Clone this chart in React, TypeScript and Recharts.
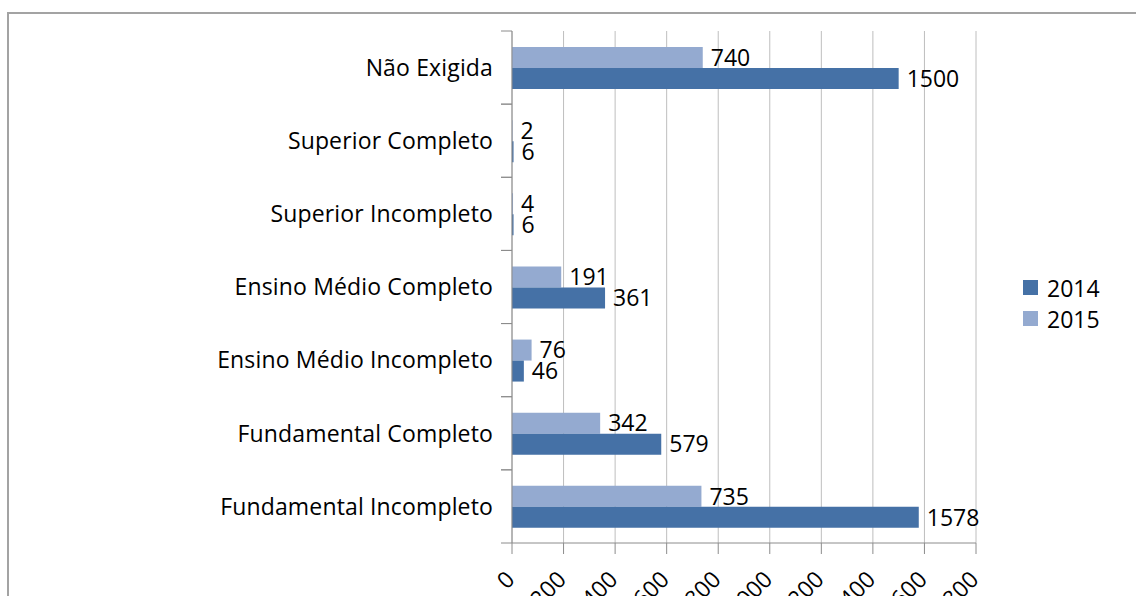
import React from 'react';
import { BarChart, Bar, XAxis, YAxis, CartesianGrid, LabelList, Legend } from 'recharts';

const categories = [
  'Não Exigida',
  'Superior Completo',
  'Superior Incompleto',
  'Ensino Médio Completo',
  'Ensino Médio Incompleto',
  'Fundamental Completo',
  'Fundamental Incompleto',
];
const values2014 = [1500, 6, 6, 361, 46, 579, 1578];
const values2015 = [740, 2, 4, 191, 76, 342, 735];
const xTicks = [0, 200, 400, 600, 800, 1000, 1200, 1400, 1600, 1800];
const seriesNames = ['2014', '2015'];

const data = categories.map((c, i) => ({ category: c, y2014: values2014[i], y2015: values2015[i] }));

const W = 1136;
const H = 596;
const FONT = '"Open Sans", sans-serif';
const FONT_SIZE = 23;
const COLOR_2014 = '#4571a6';
const COLOR_2015 = '#94aad0';
const AXIS_COLOR = '#8c8c8c';
const GRID_COLOR = '#bebebe';
const MARGIN = { top: 31, right: 160, bottom: 0, left: 0 };
const Y_W = 512;
const X_H = 53;
const Y_TICK_MARGIN = 19;
const PLOT_H = H - MARGIN.top - MARGIN.bottom - X_H;
const HALF_BAND = PLOT_H / categories.length / 2;
const colors: Record<string, string> = { '2014': COLOR_2014, '2015': COLOR_2015 };

const YTick = (props: any) => {
  const { x, y, payload } = props;
  const ax = x + Y_TICK_MARGIN;
  return (
    <g>
      <text x={x} y={y} dy="0.36em" textAnchor="end" fill="#000" fontFamily={FONT} fontSize={FONT_SIZE} letterSpacing={0.15}>
        {payload.value}
      </text>
      <line x1={ax - 11} x2={ax} y1={y - HALF_BAND} y2={y - HALF_BAND} stroke={AXIS_COLOR} />
      <line x1={ax - 11} x2={ax} y1={y + HALF_BAND} y2={y + HALF_BAND} stroke={AXIS_COLOR} />
    </g>
  );
};

const XTick = (props: any) => {
  const { x, y, payload } = props;
  return (
    <g transform={`translate(${x + 4},${y + 25})`}>
      <text x={0} y={0} textAnchor="end" transform="rotate(-45)" fill="#000" fontFamily={FONT} fontSize={FONT_SIZE}>
        {payload.value}
      </text>
    </g>
  );
};

const LegendContent = () => (
  <div style={{ fontFamily: FONT, fontSize: FONT_SIZE, color: '#000' }}>
    {seriesNames.map((s) => (
      <div key={s} style={{ display: 'flex', alignItems: 'center', height: 31 }}>
        <div style={{ width: 15, height: 15, background: colors[s], marginRight: 9 }} />
        <span>{s}</span>
      </div>
    ))}
  </div>
);

export default function App() {
  return (
    <div style={{ position: 'absolute', left: 0, top: 0, width: W, height: H, overflow: 'hidden', background: '#fff' }}>
      <div
        style={{
          position: 'absolute',
          left: 7,
          top: 12,
          width: 2000,
          height: 2000,
          borderLeft: '2px solid #a3a3a3',
          borderTop: '2px solid #a3a3a3',
        }}
      />
      <div style={{ position: 'absolute', left: 0, top: 0 }}>
        <BarChart width={W} height={H} data={data} layout="vertical" margin={MARGIN} barGap={0}>
          <CartesianGrid horizontal={false} stroke={GRID_COLOR} />
          <XAxis
            type="number"
            domain={[0, 1800]}
            ticks={xTicks}
            height={X_H}
            tickSize={11}
            stroke={AXIS_COLOR}
            tick={<XTick />}
            interval={0}
          />
          <YAxis
            type="category"
            dataKey="category"
            width={Y_W}
            tickSize={0}
            tickMargin={Y_TICK_MARGIN}
            tickLine={false}
            stroke={AXIS_COLOR}
            tick={<YTick />}
            interval={0}
          />
          <Legend
            layout="horizontal"
            verticalAlign="middle"
            align="center"
            wrapperStyle={{ left: 1023, top: 272, width: 110 }}
            content={<LegendContent />}
          />
          <Bar dataKey="y2015" name="2015" fill={COLOR_2015} barSize={21} isAnimationActive={false}>
            <LabelList dataKey="y2015" position="right" offset={8} fill="#000" fontFamily={FONT} fontSize={FONT_SIZE} />
          </Bar>
          <Bar dataKey="y2014" name="2014" fill={COLOR_2014} barSize={21} isAnimationActive={false}>
            <LabelList dataKey="y2014" position="right" offset={8} fill="#000" fontFamily={FONT} fontSize={FONT_SIZE} />
          </Bar>
        </BarChart>
      </div>
    </div>
  );
}
